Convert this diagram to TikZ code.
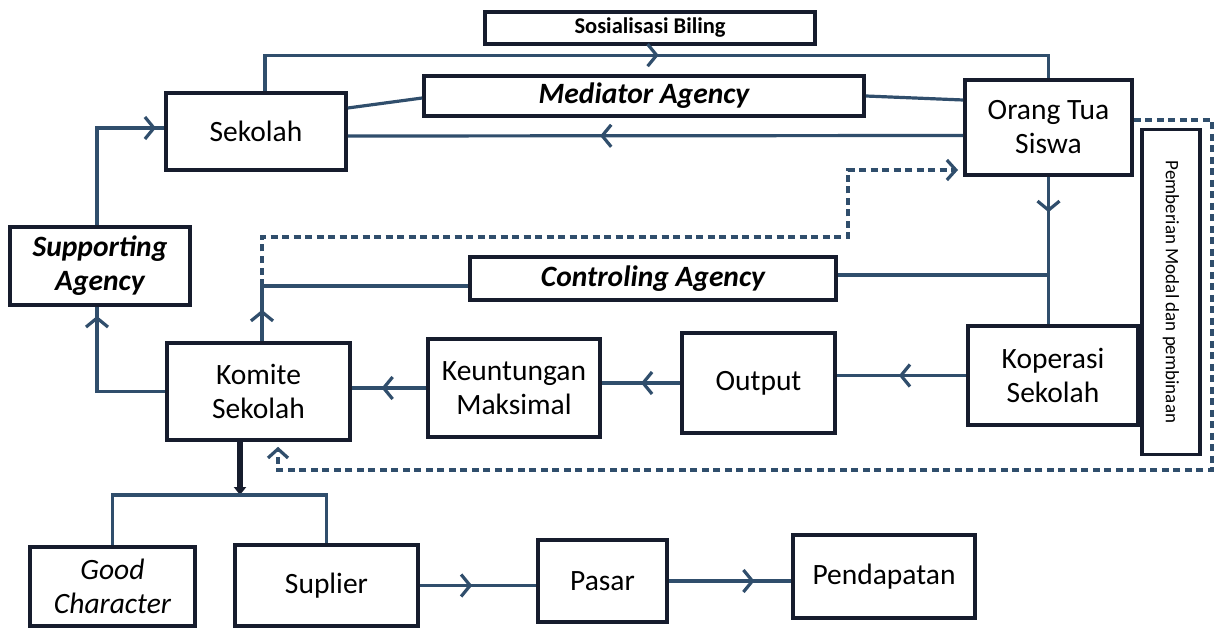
\documentclass[tikz,border=0pt]{standalone}
\usepackage{fontspec}
\setmainfont{Carlito}
\usetikzlibrary{arrows.meta,decorations.markings,calc}
\definecolor{boxc}{RGB}{22,28,45}
\definecolor{linec}{RGB}{48,78,108}
\newcommand\fA{\fontsize{29.5}{34}\selectfont}
\newcommand\fS{\fontsize{22.5}{26}\selectfont}
\newcommand\fP{\fontsize{19}{22}\selectfont}
\tikzset{
  box/.style={draw=boxc, line width=3.6pt, fill=white, align=center, inner sep=0pt, font=\fA, text=black},
  conn/.style={draw=linec, line width=3.2pt},
  dconn/.style={draw=linec, line width=3.2pt, dash pattern=on 7pt off 4.5pt},
  barb/.style={-{Straight Barb[length=9pt,width=20pt]}},
  marr/.style={postaction={decorate}, decoration={markings, mark=at position #1 with {\arrow{Straight Barb[length=9pt,width=22pt]}}}},
  thickarr/.style={draw=boxc, line width=6.5pt, -{Triangle[length=8pt,width=12pt]}}
}
\begin{document}
\begin{tikzpicture}[x=1pt,y=-1pt]
\useasboundingbox[fill=white] (0,0) rectangle (1217,628);

% coordinates for bends
\coordinate (kc) at (262,286);
\coordinate (dd1) at (262,237);
\coordinate (dd2) at (848,237);
\coordinate (dd3) at (848,170);
\coordinate (dc1) at (1212,120);
\coordinate (dc2) at (1212,470);
\coordinate (dc3) at (278,470);
\coordinate (gbar) at (240,495);

% dashed connector from the Komite line to Orang Tua (behind boxes)
\draw[dconn, barb] (kc) -- (dd1) -- (dd2) -- (dd3) -- (958,170) coordinate (dend);

% nodes
\node[box, font=\fS\bfseries, minimum width=330, minimum height=32] (sos) at (650,28) {Sosialisasi Biling};
\node[box, minimum width=180, minimum height=77] (sek) at (256,131.5) {Sekolah};
\node[box, font=\fA\bfseries\itshape, minimum width=440, minimum height=40] (med) at (644,96) {Mediator Agency};
\node[box, minimum width=167, minimum height=95] (ot) at (1048.5,127.5) {Orang Tua\\Siswa};
\node[box, font=\fA\bfseries\itshape, minimum width=180, minimum height=78] (sup) at (100,266) {Supporting\\Agency};
\node[box, font=\fA\bfseries\itshape, minimum width=366, minimum height=43] (ctrl) at (653,278.5) {Controling Agency};
\node[box, minimum width=183, minimum height=97] (kom) at (258.5,391.5) {Komite\\Sekolah};
\node[box, minimum width=172, minimum height=98] (keu) at (514,388) {Keuntungan\\Maksimal};
\node[box, minimum width=153, minimum height=100] (out) at (758.5,383) {Output};
\node[box, minimum width=170, minimum height=99] (kop) at (1053,375.5) {Koperasi\\Sekolah};
\node[box, font=\fP, rotate=-90, minimum width=325, minimum height=58] (pem) at (1171,292) {Pemberian Modal dan pembinaan};
\node[box, font=\fA\itshape, minimum width=165, minimum height=79] (gc) at (112.5,586.5) {Good\\Character};
\node[box, minimum width=183, minimum height=81] (sp) at (326.5,585.5) {Suplier};
\node[box, minimum width=129, minimum height=82] (pas) at (602.5,581) {Pasar};
\node[box, minimum width=182, minimum height=83] (pen) at (884,576.5) {Pendapatan};

% dashed feedback from Orang Tua to Komite
\draw[dconn, barb] ([yshift=7.5]ot.east) -- (dc1) -- (dc2) -- (dc3) -- ([xshift=19.5,yshift=-5]kom.south);

% top loop
\draw[conn, marr=0.51] ([xshift=9]sek.north) -- ++(0,-36) -| (ot.north);
\draw[conn] ([yshift=23.5]sek.east) -- ([yshift=-2]med.west);
\draw[conn] (med.east) -- ([yshift=27.5]ot.west);
\draw[conn, marr=0.59] ([yshift=-8]ot.west) -- ([yshift=-4.5]sek.east);

% left side
\draw[conn, marr=0.95] ([xshift=-3]sup.north) |- ([yshift=3.5]sek.west);
\draw[conn, marr=0.94] (kom.west) -| ([xshift=-3]sup.south);

% Komite up to controling agency
\draw[conn, marr=0.12] ([xshift=3.5]kom.north) -- (kc) -- ([yshift=-7.5]ctrl.west);
\draw[conn] ([yshift=3.5]ctrl.east) -- ([yshift=3.5]ctrl.east -| ot.south);

% Orang tua down to Koperasi
\draw[conn, marr=0.24] (ot.south) -- (ot.south |- kop.north);

% middle row
\draw[conn, marr=0.52] (kop.west) -- (kop.west -| out.east);
\draw[conn, marr=0.5] (out.west) -- (out.west -| keu.east);
\draw[conn, marr=0.6] (keu.west) -- (keu.west -| kom.east);

% bottom
\draw[thickarr] ([xshift=-18.5]kom.south) -- (gbar);
\draw[conn] (gc.north) -- (gc.north |- gbar) -- (sp.north |- gbar) -- (sp.north);
\draw[conn, marr=0.45] (sp.east) -- (sp.east -| pas.west);
\draw[conn, marr=0.7] (pas.east) -- (pas.east -| pen.west);
\end{tikzpicture}
\end{document}
